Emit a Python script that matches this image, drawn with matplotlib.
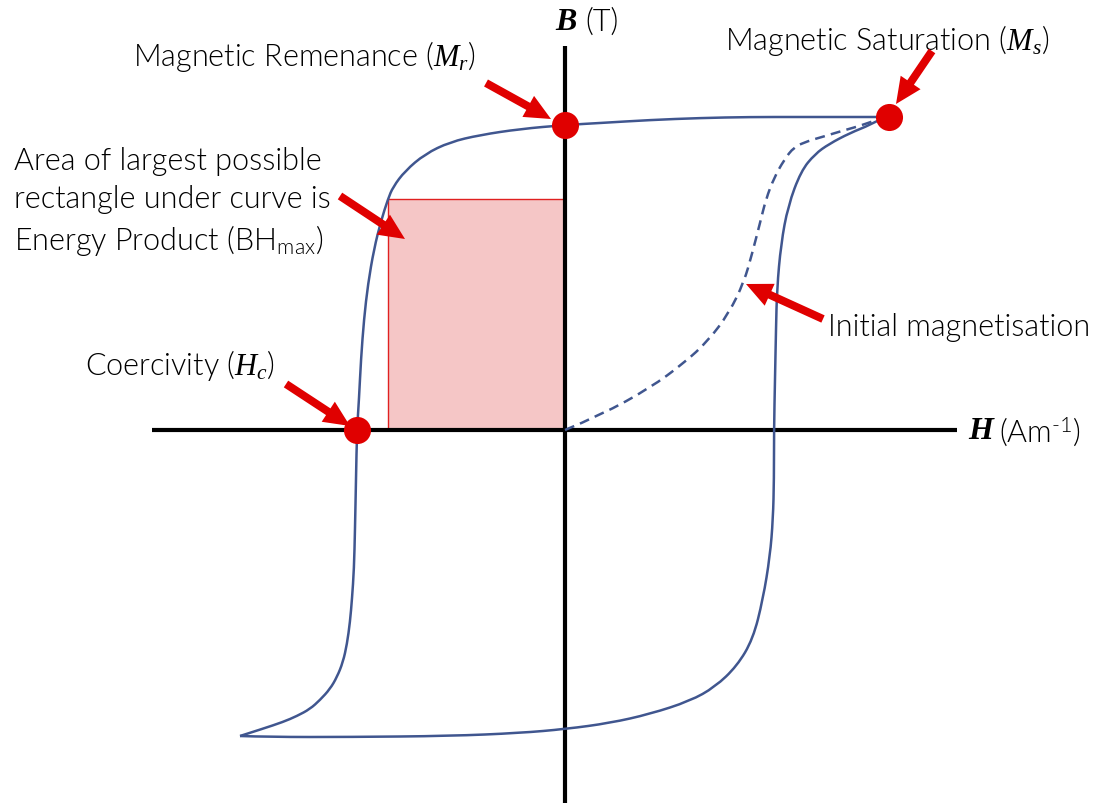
import numpy as np
import matplotlib.pyplot as plt
from matplotlib.patches import Rectangle, PathPatch
from matplotlib.path import Path

plt.rcParams['font.family'] = ['Lato', 'DejaVu Sans']
plt.rcParams['mathtext.fontset'] = 'custom'
plt.rcParams['mathtext.it'] = 'Liberation Serif:italic:normal'
plt.rcParams['mathtext.rm'] = 'Liberation Serif:normal'

# Hysteresis loop (H, B) in arbitrary units, origin at the axis cross
desc_H = [320, 285, 235, 185, 135, 85, 35, 0, -45, -85, -115, -140, -160, -172, -177,
          -184, -191, -197, -201, -204, -206, -208, -209, -210, -211, -213, -215, -218,
          -222, -228, -235, -245, -255, -268, -282, -303, -325]
desc_B = [313, 313, 313, 313, 312, 310, 307, 305, 301, 295, 288, 276, 259, 243, 231,
          209, 181, 146, 111, 71, 31, 0, -49, -99, -139, -169, -192, -214,
          -232, -247, -259, -270, -279, -286, -292, -299, -306]

asc_H = [-325, -295, -215, -115, -45, 1, 45, 85, 125, 150, 172, 188, 198, 205, 208,
         209, 209, 210, 211, 212, 216, 223, 236, 250, 264, 285, 305, 320]
asc_B = [-306, -307, -307, -306, -303, -299, -293, -284, -271, -257, -236, -209, -169,
         -126, -89, -49, 0, 51, 101, 141, 186, 224, 259, 276, 286, 297, 305, 313]

init_H = [0, 36, 85, 119, 143, 164, 179, 187, 195, 201, 209, 219, 229, 243, 257, 280, 298, 320]
init_B = [0, 15, 42, 67, 89, 117, 148, 176, 207, 231, 252, 270, 283, 289, 293, 300, 305, 313]

# key points: remanence, saturation, coercivity
pt_H = [0, 324, -208]
pt_B = [305, 313, 0]

# energy product rectangle
bh_H = -177
bh_B = 231

blue = '#40568F'
red = '#E00000'


def smooth_path(xs, ys):
    # quadratic bezier through midpoints, points act as control points
    pts = np.column_stack([xs, ys]).astype(float)
    verts = [pts[0]]
    codes = [Path.MOVETO]
    for i in range(1, len(pts) - 1):
        mid = (pts[i] + pts[i + 1]) / 2
        if i == len(pts) - 2:
            mid = pts[i + 1]
        verts += [pts[i], mid]
        codes += [Path.CURVE3, Path.CURVE3]
    return Path(verts, codes)


fig = plt.figure(figsize=(11, 8.04), dpi=100)
ax = fig.add_axes([0, 0, 1, 1])
ax.set_xlim(-565, 535)
ax.set_ylim(-373, 431)
ax.axis('off')

ax.add_patch(Rectangle((bh_H, 0), -bh_H, bh_B, facecolor='#F5C6C6',
                       edgecolor='#E02020', lw=1, zorder=1))

# axes
ax.plot([-413, 392], [0, 0], color='black', lw=3, solid_capstyle='butt', zorder=2)
ax.plot([0, 0], [-373, 384], color='black', lw=3, solid_capstyle='butt', zorder=2)

ax.add_patch(PathPatch(smooth_path(desc_H, desc_B), fill=False, edgecolor=blue,
                       lw=1.8, zorder=3))
ax.add_patch(PathPatch(smooth_path(asc_H, asc_B), fill=False, edgecolor=blue,
                       lw=1.8, zorder=3))
ax.add_patch(PathPatch(smooth_path(init_H, init_B), fill=False, edgecolor=blue,
                       lw=1.8, linestyle=(0, (4, 2.5)), zorder=3))

ax.scatter(pt_H, pt_B, s=380, color=red, zorder=5, linewidths=0)

# arrows (tail -> tip)
arrows = [((-79, 347), (-14, 311)),
          ((367, 379), (331, 326)),
          ((-225, 234), (-160, 191)),
          ((-279, 46), (-215, 4)),
          ((258, 111), (181, 146))]
for (x0, y0), (x1, y1) in arrows:
    ax.arrow(x0, y0, x1 - x0, y1 - y0, width=8, head_width=24, head_length=26,
             length_includes_head=True, color=red, lw=0, zorder=6)

fs = 22
tkw = dict(fontsize=fs, fontweight=300, va='center', ha='left')
ax.text(-432, 374, r'Magnetic Remenance ($M_r$)', **tkw)
ax.text(160, 391, r'Magnetic Saturation ($M_s$)', **tkw)
ax.text(-551, 269, 'Area of largest possible', **tkw)
ax.text(-551, 231, 'rectangle under curve is', **tkw)
ax.text(-551, 191, r'Energy Product (BH$_{\mathregular{max}}$)', **tkw)
ax.text(-480, 65, r'Coercivity ($H_c$)', **tkw)
ax.text(263, 103, 'Initial magnetisation', **tkw)

ax.text(-10, 409, 'B', fontsize=23, family='Liberation Serif', fontweight='bold',
        style='italic', va='center', ha='left')
ax.text(20, 409, '(T)', **tkw)
ax.text(403, -1, 'H', fontsize=23, family='Liberation Serif', fontweight='bold',
        style='italic', va='center', ha='left')
ax.text(434, -1, 'Am'.join(['(', '$^{\\mathregular{\u20101}}$)']), **tkw)

fig.savefig('out.png', dpi=100)
